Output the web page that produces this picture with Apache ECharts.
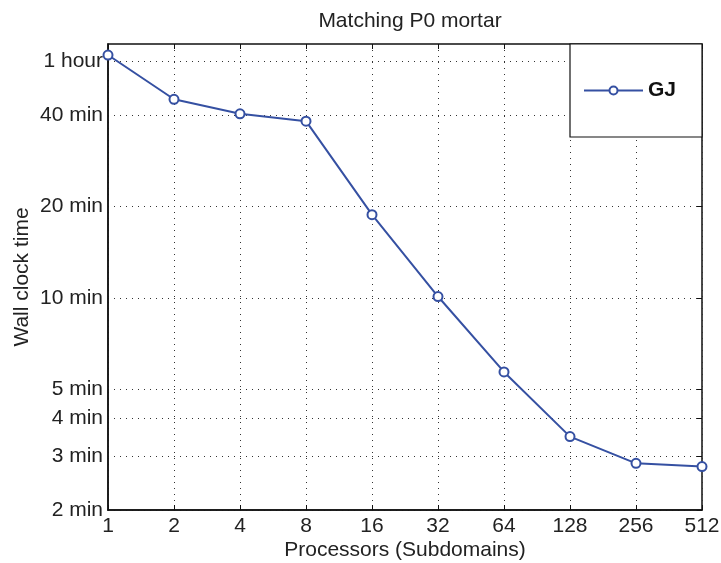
<!DOCTYPE html>
<html>
<head>
<meta charset="utf-8">
<script src="https://cdn.jsdelivr.net/npm/echarts@6/dist/echarts.min.js"></script>
<style>
  html, body { margin: 0; padding: 0; background: #fff; }
  #main { width: 721px; height: 563px; }
</style>
</head>
<body>
<div id="main"></div>
<script>
// processors (subdomains), evenly spaced on a log2 axis
var processors = ['1', '2', '4', '8', '16', '32', '64', '128', '256', '512'];
// wall clock time in minutes
var gjMinutes = [63.1, 45.1, 40.4, 38.2, 18.8, 10.1, 5.7, 3.49, 2.85, 2.78];
// y tick values (minutes) and their labels
var yTickValues = [2, 3, 4, 5, 10, 20, 40, 60];
var yTickLabels = ['2 min', '3 min', '4 min', '5 min', '10 min', '20 min', '40 min', '1 hour'];

var font = 'Liberation Sans, Arial, Helvetica, sans-serif';
var blue = '#3550A2';
var fs = 21;

var myChart = echarts.init(document.getElementById('main'));

function yLabel(v) {
    for (var i = 0; i < yTickValues.length; i++) {
        if (Math.abs(yTickValues[i] - v) < 1e-6) return yTickLabels[i];
    }
    return '';
}

var option = {
    animation: false,
    backgroundColor: '#fff',
    title: {
        text: 'Matching P0 mortar',
        left: 405,
        textAlign: 'center',
        top: 6,
        textStyle: { fontFamily: font, fontSize: fs, fontWeight: 'normal', color: '#222' }
    },
    legend: {
        left: 570,
        top: 44,
        padding: [36, 26, 36, 13],
        backgroundColor: '#fff',
        borderColor: '#111',
        borderWidth: 1.2,
        borderRadius: 0,
        itemWidth: 59,
        itemHeight: 10,
        textStyle: { fontFamily: font, fontSize: fs, fontWeight: 'bold', color: '#111' },
        data: ['GJ']
    },
    grid: {
        left: 108,
        right: 19,
        top: 44,
        bottom: 53,
        containLabel: false,
        outerBoundsMode: 'none',
        show: true,
        borderColor: '#111',
        borderWidth: 1.5,
        backgroundColor: 'transparent'
    },
    xAxis: [
        {
            type: 'category',
            data: processors,
            boundaryGap: false,
            name: 'Processors (Subdomains)',
            nameLocation: 'middle',
            nameGap: 30,
            nameMoveOverlap: false,
            nameTextStyle: { fontFamily: font, fontSize: fs, color: '#222' },
            axisLine: { lineStyle: { color: '#111', width: 1.5 } },
            axisTick: { inside: true, length: 5, lineStyle: { color: '#111' }, alignWithLabel: true },
            axisLabel: { fontFamily: font, fontSize: fs, color: '#222', margin: 6, interval: 0, hideOverlap: false },
            splitLine: { show: true, lineStyle: { color: '#333', type: [1, 5], width: 1 } }
        },
        {
            type: 'category',
            data: processors,
            boundaryGap: false,
            position: 'top',
            axisLine: { show: false },
            axisTick: { inside: true, length: 5, lineStyle: { color: '#111' } },
            axisLabel: { show: false },
            splitLine: { show: false }
        }
    ],
    yAxis: [
        {
            type: 'log',
            logBase: 10,
            min: 2,
            max: 68.6,
            name: 'Wall clock time',
            nameLocation: 'middle',
            nameGap: 75,
            nameMoveOverlap: false,
            nameTextStyle: { fontFamily: font, fontSize: fs, color: '#222' },
            axisLine: { show: true, lineStyle: { color: '#111', width: 1.5 } },
            axisTick: { inside: true, length: 5, lineStyle: { color: '#111' }, customValues: yTickValues },
            axisLabel: { fontFamily: font, fontSize: fs, color: '#222', margin: 5, customValues: yTickValues, formatter: yLabel },
            splitLine: { show: true, lineStyle: { color: '#333', type: [1, 5], width: 1 } }
        },
        {
            type: 'log',
            logBase: 10,
            min: 2,
            max: 68.6,
            position: 'right',
            axisLine: { show: false },
            axisTick: { show: true, inside: true, length: 5, lineStyle: { color: '#111' }, customValues: yTickValues },
            axisLabel: { show: false },
            splitLine: { show: false }
        }
    ],
    series: [
        {
            name: 'GJ',
            type: 'line',
            xAxisIndex: 0,
            yAxisIndex: 0,
            data: gjMinutes,
            symbol: 'emptyCircle',
            symbolSize: 9,
            lineStyle: { color: blue, width: 2 },
            itemStyle: { color: blue, borderColor: blue, borderWidth: 1.8 },
            z: 5
        }
    ]
};

myChart.setOption(option);
</script>
</body>
</html>
